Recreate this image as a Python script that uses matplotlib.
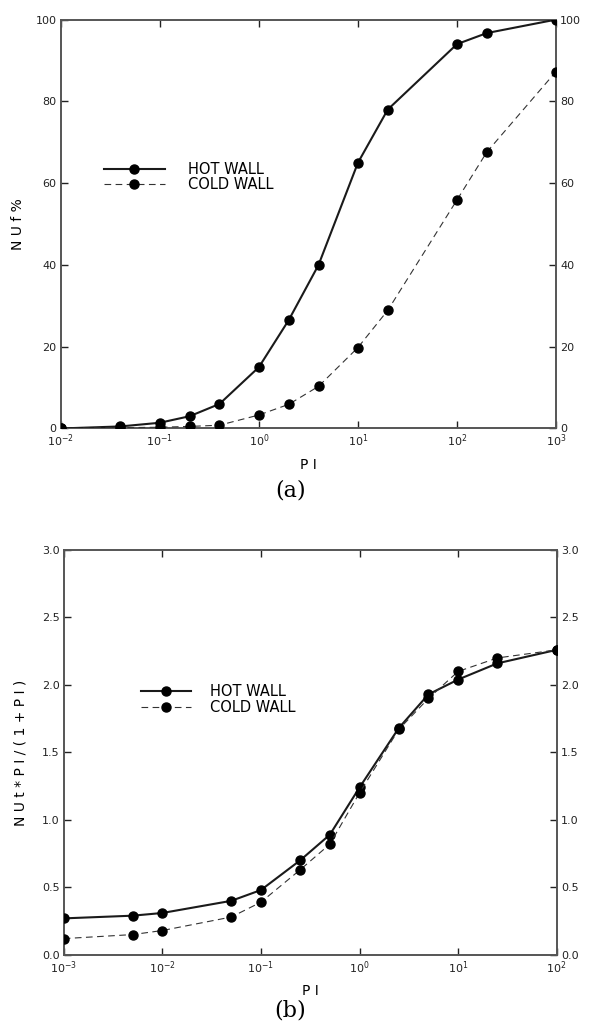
import numpy as np
from matplotlib import pyplot as plt
from matplotlib.ticker import LogLocator, FixedLocator, FuncFormatter

# panel (a): NUf % vs PI
pi_a = [0.01, 0.04, 0.1, 0.2, 0.4, 1, 2, 4, 10, 20, 100, 200, 1000]
hot_a = [0, 0.5, 1.4, 3.0, 6.0, 15.0, 26.5, 40.0, 65.0, 78.0, 94.0, 96.7, 100.0]
pi_a_cold = [0.01, 0.04, 0.1, 0.2, 0.4, 1, 2, 4, 10, 20, 100, 200, 1000]
cold_a = [0, 0.2, 0.3, 0.5, 0.8, 3.3, 5.9, 10.3, 19.8, 28.9, 55.9, 67.6, 87.3]

# panel (b): NUt*PI/(1+PI) vs PI
pi_b = [0.001, 0.005, 0.01, 0.05, 0.1, 0.25, 0.5, 1, 2.5, 5, 10, 25, 100]
hot_b = [0.27, 0.29, 0.31, 0.40, 0.48, 0.70, 0.89, 1.24, 1.68, 1.93, 2.04, 2.16, 2.26]
cold_b = [0.12, 0.15, 0.18, 0.28, 0.39, 0.63, 0.82, 1.20, 1.67, 1.90, 2.10, 2.20, 2.26]

yt_a = [0, 20, 40, 60, 80, 100]
yt_b = [0.0, 0.5, 1.0, 1.5, 2.0, 2.5, 3.0]

fig = plt.figure(figsize=(5.96, 10.3), dpi=100)
ax1 = fig.add_axes([0.102, 0.584, 0.831, 0.397])
ax2 = fig.add_axes([0.107, 0.073, 0.827, 0.393])

def logfmt(v, pos):
    return r'$10^{%d}$' % int(round(np.log10(v)))

def style(ax, xlim, ylim, yt, yfmt):
    ax.set_xscale('log')
    ax.set_xlim(*xlim)
    ax.set_ylim(*ylim)
    ax.xaxis.set_major_locator(LogLocator(base=10, numticks=10))
    ax.xaxis.set_minor_locator(FixedLocator([]))
    ax.xaxis.set_major_formatter(FuncFormatter(logfmt))
    ax.set_yticks(yt)
    ax.yaxis.set_major_formatter(FuncFormatter(lambda v, p: yfmt % v))
    ax.tick_params(direction='in', length=5, width=1, top=True, right=True,
                   labelright=True, labelsize=8, colors='#222222', pad=3)
    for s in ax.spines.values():
        s.set_color('#555555')
        s.set_linewidth(1.4)

for ax, xh, yh, xc, yc in [(ax1, pi_a, hot_a, pi_a_cold, cold_a),
                           (ax2, pi_b, hot_b, pi_b, cold_b)]:
    ax.plot(xh, yh, '-', color='#1a1a1a', lw=1.5, marker='o', ms=6.5,
            mfc='black', mec='black', label='HOT WALL', zorder=3)
    ax.plot(xc, yc, '--', color='#333333', lw=0.8, dashes=(6, 4), marker='o', ms=6.5,
            mfc='black', mec='black', label='COLD WALL', zorder=3)

style(ax1, (0.01, 1000), (0, 100), yt_a, '%g')
style(ax2, (0.001, 100), (0, 3.0), yt_b, '%.1f')

ax1.legend(loc='center left', bbox_to_anchor=(0.06, 0.615), frameon=False,
           handlelength=4.2, handletextpad=1.6, labelspacing=0.05,
           prop={'size': 10.5, 'family': 'DejaVu Sans'})
ax2.legend(loc='center left', bbox_to_anchor=(0.13, 0.63), frameon=False,
           handlelength=3.4, handletextpad=1.3, labelspacing=0.05,
           prop={'size': 10.5, 'family': 'DejaVu Sans'})

ax1.set_xlabel('P I', fontsize=10, labelpad=6)
ax2.set_xlabel('P I', fontsize=10, labelpad=6)
ax1.set_ylabel('N U f %', fontsize=10, labelpad=8)
ax2.set_ylabel('N U t * P I / ( 1 + P I )', fontsize=10, labelpad=10)

fig.text(0.487, 1 - 490 / 1030, '(a)', ha='center', va='center',
         fontsize=16, family='DejaVu Serif')
fig.text(0.487, 1 - 1010 / 1030, '(b)', ha='center', va='center',
         fontsize=16, family='DejaVu Serif')

fig.savefig('out.png', dpi=100)
